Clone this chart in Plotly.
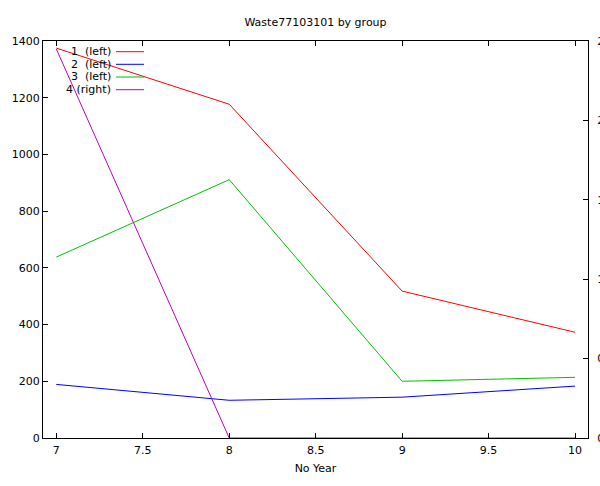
import plotly.graph_objects as go

# Waste amounts per group by year
years = [7, 8, 9, 10]
group1 = [1375, 1177, 518, 373]
group2 = [189, 133, 144, 183]
group3 = [638, 911, 200, 214]
group4 = [2.45, 0, 0, 0]

series_names = ["1\u00a0 (left)", "2\u00a0 (left)", "3\u00a0 (left)", "4 (right)"]
series_values = [group1, group2, group3, group4]
series_axes = ["y", "y", "y", "y2"]
series_colors = ["#ff0000", "#0000ff", "#00c000", "#c000c0"]

FONT = "DejaVu Sans"
W, H = 600, 486
L, R, T, B = 43, 12, 41, 48

fig = go.Figure()
for name, vals, ax, col in zip(series_names, series_values, series_axes, series_colors):
    fig.add_trace(go.Scatter(
        x=years, y=vals, name=name, yaxis=ax, mode="lines",
        line=dict(color=col, width=1), showlegend=False,
    ))

# gnuplot-style key: right-aligned titles followed by a line sample
pw, ph = W - L - R, H - T - B
row_px = [51.7, 64.3, 77.0, 89.7]
for name, col, ypx in zip(series_names, series_colors, row_px):
    yp = (H - B - ypx) / ph
    fig.add_annotation(
        x=(113 - L) / pw, y=yp, xref="paper", yref="paper",
        text=name, showarrow=False, xanchor="right", yanchor="middle",
        font=dict(family=FONT, size=11, color="#000000"),
    )
    fig.add_shape(
        type="line", xref="paper", yref="paper",
        x0=(116 - L) / pw, x1=(144 - L) / pw, y0=yp, y1=yp,
        line=dict(color=col, width=1),
    )

axis_common = dict(
    showgrid=False, zeroline=False, showline=True, linecolor="#000000",
    linewidth=1, ticks="inside", ticklen=5, tickcolor="#000000",
    automargin=False,
    tickfont=dict(family=FONT, size=11, color="#000000"),
)

fig.update_layout(
    width=W, height=H,
    margin=dict(l=L, r=R, t=T, b=B),
    paper_bgcolor="white", plot_bgcolor="white",
    title=dict(
        text="Waste77103101 by group", x=(L + pw / 2) / W, xanchor="center",
        y=1 - 22 / H, yanchor="middle",
        font=dict(family=FONT, size=11, color="#000000"),
    ),
    xaxis=dict(
        range=[6.923, 10.075], tickmode="linear", tick0=7, dtick=0.5,
        mirror="ticks", ticklabelstandoff=2,
        title=dict(text="No Year", font=dict(family=FONT, size=11, color="#000000"), standoff=8),
        **axis_common,
    ),
    yaxis=dict(
        range=[0, 1400], tickmode="linear", tick0=0, dtick=200,
        mirror=True, **axis_common,
    ),
    yaxis2=dict(
        range=[0, 2.5], tickmode="linear", tick0=0, dtick=0.5,
        overlaying="y", side="right", ticklabelstandoff=6, **axis_common,
    ),
)

fig.write_html("out.html")
